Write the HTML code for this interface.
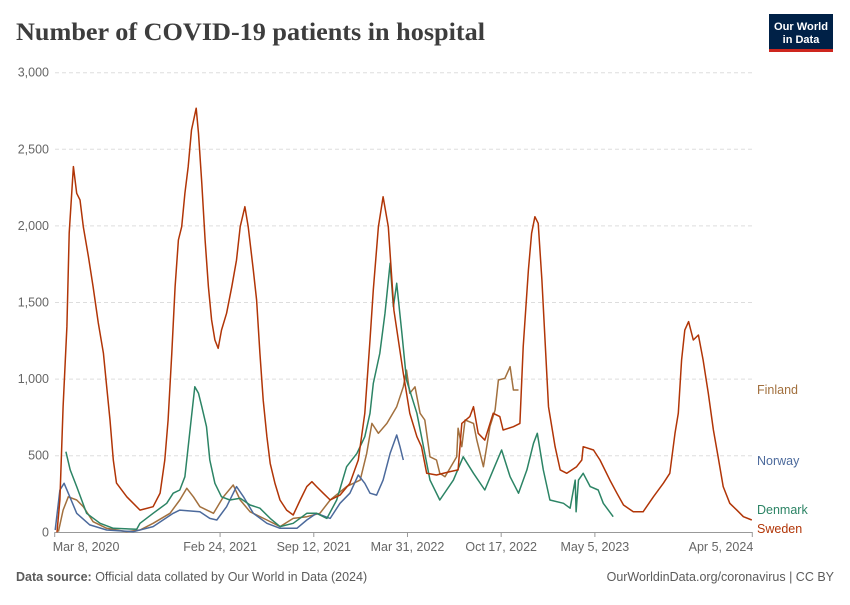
<!DOCTYPE html>
<html><head><meta charset="utf-8">
<style>
body{margin:0;background:#fff;}
#wrap{width:850px;height:600px;position:relative;font-family:"Liberation Sans",sans-serif;}
</style></head>
<body>
<div id="wrap">
<svg id="chart" width="850" height="600" xmlns="http://www.w3.org/2000/svg">
  <text x="16" y="40" font-family="Liberation Serif, serif" font-weight="bold" font-size="25" fill="#3d3d3d" textLength="469" lengthAdjust="spacingAndGlyphs">Number of COVID-19 patients in hospital</text>
  <g>
    <rect x="769" y="14" width="64" height="38" fill="#002147"/>
    <rect x="769" y="49" width="64" height="3" fill="#ce261e"/>
    <text x="801" y="30" font-size="11" font-weight="bold" fill="#fff" text-anchor="middle" textLength="54" lengthAdjust="spacingAndGlyphs">Our World</text>
    <text x="801" y="43" font-size="11" font-weight="bold" fill="#fff" text-anchor="middle">in Data</text>
  </g>
  <g id="grid"></g>
  <g id="xaxis"></g>
  <g id="series"></g>
  <g id="labels"></g>
  <text x="16" y="581" font-size="12.5" fill="#5b5b5b"><tspan font-weight="bold">Data source:</tspan> Official data collated by Our World in Data (2024)</text>
  <text x="834" y="581" font-size="12.5" fill="#5b5b5b" text-anchor="end">OurWorldinData.org/coronavirus | CC BY</text>
</svg>
</div>
<script>
// days since Mar 8, 2020
const yTicks = [0, 500, 1000, 1500, 2000, 2500, 3000];
const yTickLabels = ["0", "500", "1,000", "1,500", "2,000", "2,500", "3,000"];
const xTickDays = [0, 353, 553, 753, 953, 1153, 1489];
const xTickLabels = ["Mar 8, 2020", "Feb 24, 2021", "Sep 12, 2021", "Mar 31, 2022", "Oct 17, 2022", "May 5, 2023", "Apr 5, 2024"];

const swedenDays = [5,11,18,26,31,40,47,54,61,72,82,93,104,111,118,125,132,154,182,210,225,235,242,250,257,264,271,278,285,292,302,307,314,321,328,335,342,349,356,367,378,388,396,406,413,424,431,438,445,453,460,470,481,495,509,524,538,549,559,573,588,609,630,648,662,673,680,691,701,712,724,744,758,773,783,794,815,844,861,869,886,894,904,918,936,950,957,979,993,1000,1011,1018,1025,1032,1040,1054,1068,1079,1093,1114,1125,1128,1150,1164,1185,1200,1214,1235,1256,1278,1299,1313,1324,1331,1338,1345,1353,1363,1374,1384,1395,1406,1416,1427,1441,1456,1470,1488];
const swedenValues = [0,212,820,1342,1953,2387,2213,2170,1995,1800,1603,1366,1170,950,733,472,321,232,145,167,256,472,733,1170,1603,1908,1995,2213,2387,2626,2768,2604,2278,1908,1603,1386,1255,1201,1320,1430,1603,1777,1995,2125,1995,1712,1516,1170,863,624,450,321,211,145,113,211,298,330,298,255,211,243,320,472,777,1255,1582,1995,2190,1995,1450,1038,776,624,559,385,374,396,407,711,755,820,646,602,777,755,668,689,711,1211,1712,1952,2060,2017,1647,820,559,407,385,428,472,559,537,472,341,255,178,134,134,232,320,385,646,777,1125,1320,1375,1255,1288,1125,907,668,493,298,189,145,102,80];

const denmarkDays = [24,33,47,68,97,125,175,182,210,239,253,267,278,285,292,299,307,314,324,331,342,356,374,396,417,438,460,481,509,538,559,581,602,623,645,662,673,680,694,705,716,723,730,741,751,773,790,801,822,851,872,894,918,936,954,972,990,1008,1022,1030,1043,1057,1086,1100,1111,1113,1118,1128,1143,1160,1171,1192];
const denmarkValues = [526,407,298,124,59,26,20,59,124,189,255,276,363,559,755,950,907,820,689,472,320,232,211,222,178,157,91,37,59,124,124,91,211,428,515,624,777,972,1168,1430,1756,1472,1625,1299,994,777,515,341,211,341,493,385,276,407,537,363,255,407,581,646,407,211,189,157,341,134,341,385,298,276,189,102];

const norwayDays = [1,11,20,29,47,75,111,168,210,253,267,310,331,346,367,388,403,424,453,481,517,538,559,588,609,630,648,662,673,687,701,716,730,737,744];
const norwayValues = [15,276,320,255,124,48,15,4,37,124,145,134,91,80,167,298,232,124,59,26,26,80,124,91,189,255,374,320,255,243,341,515,635,559,472];

const finlandDays = [8,18,29,47,61,82,111,154,182,210,246,267,282,296,310,339,360,381,396,417,453,481,509,538,566,588,623,652,666,677,691,709,730,744,751,758,769,780,790,801,815,822,833,858,861,869,876,894,901,915,922,929,940,947,961,972,979,990];
const finlandValues = [4,145,232,211,167,69,26,4,15,59,124,211,287,232,167,124,232,309,211,134,80,37,91,102,124,211,298,341,515,711,646,711,820,950,1059,907,950,777,733,493,472,385,363,493,679,559,733,711,602,428,559,689,798,994,1005,1081,929,929];

const X0 = 54.7, XPD = 0.4685, Y0 = 532.3, YPV = 459.6/3000;
const xs = d => X0 + d * XPD;
const ys = v => Y0 - v * YPV;
const NS = "http://www.w3.org/2000/svg";
function mk(tag, attrs, parent){ const e=document.createElementNS(NS,tag); for(const k in attrs) e.setAttribute(k,attrs[k]); parent.appendChild(e); return e; }

const grid = document.getElementById('grid');
yTicks.forEach((t,i)=>{
  const y = ys(t);
  if (t>0) {
    const l = mk('line',{x1:55,x2:752,y1:y,y2:y,stroke:'#dddddd','stroke-dasharray':'4,3'},grid);
    
    
  }
  const tx = mk('text',{x:49,y:y+4,'font-size':12.5,fill:'#666','text-anchor':'end'},grid);
  tx.textContent = yTickLabels[i];
  
  
});
const xa = document.getElementById('xaxis');
const axl = mk('line',{x1:55,x2:752.5,y1:532.5,y2:532.5,stroke:'#999'},xa);


xTickDays.forEach((d,i)=>{
  const x = xs(d);
  const tk = mk('line',{x1:x,x2:x,y1:532,y2:537,stroke:'#999'},xa);
  
  
  let anchor='middle', tx0=x;
  if(i===0){anchor='start'; tx0=x-2;}
  if(i===xTickDays.length-1){anchor='end'; tx0=x+1;}
  const t = mk('text',{x:tx0,y:551,'font-size':12.5,fill:'#666','text-anchor':anchor},xa);
  t.textContent = xTickLabels[i];
  
  
});

const sg = document.getElementById('series');
const lg = document.getElementById('labels');
const series = [
  {name:'finland', label:'Finland', d:finlandDays, v:finlandValues, c:'#a2703e', ly:394},
  {name:'norway', label:'Norway', d:norwayDays, v:norwayValues, c:'#4c6a9c', ly:465},
  {name:'denmark', label:'Denmark', d:denmarkDays, v:denmarkValues, c:'#2c8465', ly:514},
  {name:'sweden', label:'Sweden', d:swedenDays, v:swedenValues, c:'#b13507', ly:533},
];
series.forEach(s=>{
  const pts = s.d.map((d,i)=>xs(d).toFixed(1)+','+ys(s.v[i]).toFixed(1)).join(' ');
  const p = mk('polyline',{points:pts,fill:'none',stroke:s.c,'stroke-width':1.5,'stroke-linejoin':'round'},sg);
  
  
  const t = mk('text',{x:757,y:s.ly,'font-size':12.5,fill:s.c},lg);
  t.textContent = s.label;
  
  
});
</script>
</body></html>
